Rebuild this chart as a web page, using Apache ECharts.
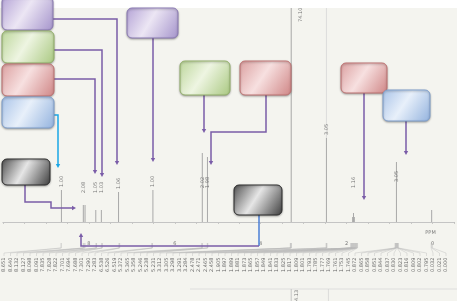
<!DOCTYPE html>
<html><head><meta charset="utf-8">
<script src="https://cdn.jsdelivr.net/npm/echarts@6/dist/echarts.min.js"></script>
<style>html,body{margin:0;padding:0;background:#f4f4ef}#c{width:457px;height:301px}</style>
</head><body><div id="c"></div>
<script>
// Spectrum peaks (ppm, relative height) and their integration labels
const peakPpm    = [8.64, 8.13, 8.09, 7.84, 7.71, 7.31, 6.51, 5.36, 5.24, 3.29, 2.47, 1.86, 1.84, 1.82, 0.84, 0.02];
const peakHeight = [32, 17, 17, 12, 12, 30, 32, 69, 65, 214, 84, 5, 9, 5, 60, 12];
const peakLabel  = ['1.00','2.08','','1.05','1.03','1.06','1.00','2.02','1.98','74.10','3.05','','1.16','','3.05',''];
// Peak-picking list (ppm)
const listPpm = [8.651,8.640,8.132,8.127,8.098,8.091,7.835,7.828,7.822,7.701,7.694,7.688,7.301,7.290,7.283,
  6.538,6.526,6.519,5.372,5.365,5.358,5.246,5.238,5.231,3.312,3.305,3.298,3.291,3.284,2.478,2.471,2.465,2.458,
  1.905,1.897,1.889,1.881,1.873,1.865,1.857,1.849,1.841,1.833,1.825,1.817,1.809,1.801,1.793,1.785,1.777,1.769,
  1.761,1.753,1.745,0.872,0.865,0.858,0.851,0.844,0.837,0.830,0.823,0.816,0.809,0.802,0.795,0.032,0.021,0.000];
const axisLabels = [0, 2, 4, 6, 8];

// label placement tweaks (layout only)
const labelPos = {1:[0.5,-12], 3:[0.5,-17], 4:[0.5,-17], 7:[0.5,35], 8:[0.5,31], 9:[10,14], 12:[0.5,-25], 14:[0.5,20]};

const chart = echarts.init(document.getElementById('c'), null, {renderer:'canvas'});
const data = peakPpm.map((p,i)=>{
  const d = {value:[p, peakHeight[i]]};
  if (labelPos[i]) d.label = {position:labelPos[i]};
  return d;
});
chart.setOption({
  backgroundColor:'#f4f4ef',
  animation:false,
  grid:{left:-6, right:-9.5, top:8, bottom:64},
  xAxis:{type:'value', min:-0.5, max:10, interval:0.5, inverse:true,
    axisLine:{lineStyle:{color:'#aaa', width:0.8}},
    axisTick:{length:2, lineStyle:{color:'#aaa', width:0.6}},
    splitLine:{show:false},
    axisLabel:{fontSize:5, color:'#777', margin:4, fontFamily:'DejaVu Sans',
      formatter:v=> axisLabels.indexOf(v) >= 0 ? String(v) : ''}},
  yAxis:{type:'value', min:-15, max:214, show:false},
  series:[{
    type:'bar', data:data, barWidth:1, itemStyle:{color:'#a8a8a8'},
    label:{show:true, rotate:90, align:'left', verticalAlign:'middle', position:'top', distance:3,
      fontSize:5, color:'#777', fontFamily:'DejaVu Sans',
      formatter:p=>peakLabel[p.dataIndex]},
    markLine:{silent:true, symbol:'none', label:{show:false},
      lineStyle:{color:'#c4c4c4', width:1, type:'solid'}, data:[{yAxis:0}]}
  }]
});

const G = echarts.graphic;
function grad(a,b,c){return new G.LinearGradient(0,0,1,1,[{offset:0,color:a},{offset:0.45,color:b},{offset:1,color:c}]);}
const styles = {
  purple:[grad('#b4a3d6','#ece6f4','#a493cb'),'#8b7ab4'],
  green:[grad('#bcd69a','#eef5e2','#a9c880'),'#93b06a'],
  red:[grad('#dba0a0','#f7e0e0','#cf8585'),'#bf7272'],
  blue:[grad('#a9c3e8','#e8f0fa','#92b2de'),'#7f9fcc'],
  gray:[grad('#505050','#e6e6e6','#3c3c3c'),'#2c2c2c']
};
const els = [];
els.push({type:'rect', shape:{x:0,y:0,width:457,height:8}, style:{fill:'#ffffff'}, z:1});
function box(x,y,w,h,c){
  els.push({type:'rect', shape:{x:x,y:y,width:w,height:h,r:5},
    style:{fill:styles[c][0], stroke:styles[c][1], lineWidth:1, shadowBlur:2, shadowOffsetY:1, shadowColor:'rgba(0,0,0,0.3)'}, z:20});
}
function arrow(pts,color,dir){
  const t = pts[pts.length-1], L=4, W=2.2;
  let tri, end;
  if (dir==='down'){tri=[[t[0]-W,t[1]-L],[t[0]+W,t[1]-L],t]; end=[t[0],t[1]-L+1];}
  else if (dir==='up'){tri=[[t[0]-W,t[1]+L],[t[0]+W,t[1]+L],t]; end=[t[0],t[1]+L-1];}
  else {tri=[[t[0]-L,t[1]-W],[t[0]-L,t[1]+W],t]; end=[t[0]-L+1,t[1]];}
  const p = pts.slice(0,-1).concat([end]);
  els.push({type:'polyline', shape:{points:p}, style:{stroke:color, lineWidth:1.5, fill:null}, z:15});
  els.push({type:'polygon', shape:{points:tri}, style:{fill:color}, z:15});
}
function line(pts,color,w,z){els.push({type:'polyline', shape:{points:pts}, style:{stroke:color,lineWidth:w,fill:null}, z:z||5});}

const PU='#7a5ca8';
arrow([[53,19],[117,19],[117,165]],PU,'down');
arrow([[54,50],[102,50],[102,177]],PU,'down');
arrow([[54,79],[95,79],[95,174]],PU,'down');
arrow([[54,115],[58,115],[58,168]],'#1aa6e6','down');
arrow([[153,38],[153,162]],PU,'down');
arrow([[204,95],[204,133]],PU,'down');
arrow([[266,95],[266,132],[211,132],[211,165]],PU,'down');
arrow([[364,93],[364,200]],PU,'down');
arrow([[406,121],[406,155]],PU,'down');
arrow([[25,185],[25,202],[51,202],[51,208],[76,208]],PU,'right');
line([[259,215],[259,246]],'#4b7fd6',1.5,15);
arrow([[259,246],[81,246],[81,233]],PU,'up');

box(2,-3,51,33,'purple');
box(2,31,52,32,'green');
box(2,64,52,32,'red');
box(2,97,52,31,'blue');
box(127,8,51,30,'purple');
box(180,61,50,34,'green');
box(240,61,51,34,'red');
box(341,63,46,30,'red');
box(383,90,47,31,'blue');
box(2,159,48,26,'gray');
box(234,185,48,30,'gray');

// frame line above 2.47 peak
const fx = chart.convertToPixel({gridIndex:0},[2.47,0])[0];
line([[fx,8],[fx,138]],'#d6d6d6',0.8,2);

// peak list labels and connectors
listPpm.forEach((p,i)=>{
  const lx = 4 + 6.5*i;
  const px = chart.convertToPixel({gridIndex:0},[p,0])[0];
  line([[px,243],[px,248],[lx,253],[lx,256]],'#b8b8b8',0.4,3);
  els.push({type:'text', x:lx, y:272, rotation:Math.PI/2,
    style:{text:p.toFixed(3), fontSize:5, fill:'#666', align:'left', verticalAlign:'middle', fontFamily:'DejaVu Sans'}, z:4});
});
const zx = chart.convertToPixel({gridIndex:0},[0,0])[0];
els.push({type:'text', x:zx-2, y:235, style:{text:'PPM', fontSize:5, fill:'#777', align:'center', verticalAlign:'bottom', fontFamily:'DejaVu Sans'}, z:4});
// lower cut-off panel
const bx = chart.convertToPixel({gridIndex:0},[3.29,0])[0];
line([[190,289],[457,289]],'#d0d0d0',0.6,2);
line([[bx,289],[bx,301]],'#bbb',0.8,2);
line([[fx+2,289],[fx+2,301]],'#ccc',0.6,2);
els.push({type:'text', x:bx+5, y:301, rotation:Math.PI/2, style:{text:'4.13', fontSize:5, fill:'#777', align:'left', verticalAlign:'middle', fontFamily:'DejaVu Sans'}, z:4});

chart.setOption({graphic:{elements:els}});
</script></body></html>
